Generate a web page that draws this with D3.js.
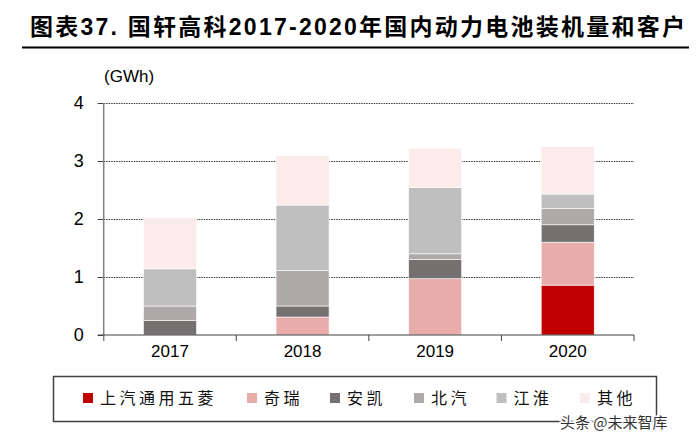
<!DOCTYPE html>
<html><head><meta charset="utf-8">
<script src="https://cdn.jsdelivr.net/npm/d3@7"></script>
<style>
html,body{margin:0;padding:0;background:#fff;}
svg{display:block;}
</style></head>
<body>
<svg id="chart" width="699" height="439"></svg>
<script>
// ---- data ----
const years = ["2017", "2018", "2019", "2020"];
const seriesNames = ["上汽通用五菱", "奇瑞", "安凯", "北汽", "江淮", "其他"];
const saicWuling = [0, 0, 0, 0.86];
const chery = [0, 0.31, 0.97, 0.74];
const ankai = [0.25, 0.19, 0.33, 0.30];
const baic = [0.25, 0.61, 0.10, 0.28];
const jac = [0.64, 1.13, 1.14, 0.25];
const others = [0.88, 0.85, 0.68, 0.82];
const yTicks = [0, 1, 2, 3, 4];
const colors = ["#C00000", "#E8ADAB", "#767171", "#AEAAAA", "#BFBFBF", "#FBEBEA"];

const seriesValues = [saicWuling, chery, ankai, baic, jac, others];
const table = years.map((yr, i) => {
  const row = {year: yr};
  seriesNames.forEach((s, k) => row[s] = seriesValues[k][i]);
  return row;
});

const svg = d3.select("#chart");
const pL = 103.7, pR = 634, pT = 103, pB = 335;

const x = d3.scaleBand().domain(years).range([pL, pR]).padding(0);
const y = d3.scaleLinear().domain([0, 4]).range([pB, pT]);
const barW = x.bandwidth() * 0.4;

// title
const narrow = "'Liberation Sans Narrow', 'Arial Narrow', 'Liberation Sans', sans-serif";
const title = svg.append("text")
  .attr("x", 30).attr("y", 35)
  .attr("font-family", "'Noto Sans CJK SC', sans-serif")
  .attr("font-weight", "bold").attr("font-size", 23)
  .attr("fill", "#000")
  .attr("textLength", 655).attr("lengthAdjust", "spacing");
title.append("tspan").text("图表");
title.append("tspan").attr("font-family", narrow).text("37. ");
title.append("tspan").text("国轩高科");
title.append("tspan").attr("font-family", narrow).text("2017-2020");
title.append("tspan").text("年国内动力电池装机量和客户");
svg.append("line").attr("x1", 22).attr("x2", 689).attr("y1", 47.5).attr("y2", 47.5)
  .attr("stroke", "#000").attr("stroke-width", 2);

// gridlines
svg.append("g").selectAll("line").data(yTicks.filter(d => d > 0)).join("line")
  .attr("x1", pL).attr("x2", pR)
  .attr("y1", d => Math.round(y(d)) + 0.5).attr("y2", d => Math.round(y(d)) + 0.5)
  .attr("stroke", "#3a3a3a").attr("stroke-width", 1).attr("stroke-dasharray", "1.5,1");

// stacked bars
const stack = d3.stack().keys(seriesNames)(table);
svg.append("g").selectAll("g").data(stack).join("g")
  .attr("fill", (d, i) => colors[i])
  .selectAll("rect").data(d => d).join("rect")
  .attr("x", d => x(d.data.year) + (x.bandwidth() - barW) / 2)
  .attr("width", barW)
  .attr("y", d => y(d[1]))
  .attr("height", d => Math.max(0, y(d[0]) - y(d[1])))
  .attr("stroke", "#ffffff").attr("stroke-width", 0.6);

// y axis
const yAxis = svg.append("g").attr("transform", `translate(${pL},0)`)
  .call(d3.axisLeft(y).tickValues(yTicks).tickSize(6).tickPadding(14).tickFormat(d3.format("d")));
yAxis.select(".domain").remove();
yAxis.selectAll(".tick line").attr("stroke", "#404040");
yAxis.selectAll("text").attr("font-family", narrow).attr("font-size", 18).attr("fill", "#000");
svg.append("line").attr("x1", pL).attr("x2", pL).attr("y1", pT).attr("y2", pB + 6)
  .attr("stroke", "#808080").attr("stroke-width", 1.5);

// x axis
const xAxis = svg.append("g").attr("transform", `translate(0,${pB})`)
  .call(d3.axisBottom(x).tickSize(0).tickPadding(10));
xAxis.select(".domain").remove();
xAxis.selectAll("text").attr("font-family", narrow).attr("font-size", 17).attr("fill", "#000");
svg.append("line").attr("x1", pL - 6).attr("x2", pR).attr("y1", pB).attr("y2", pB)
  .attr("stroke", "#404040").attr("stroke-width", 1);
svg.append("g").selectAll("line").data(years).join("line")
  .attr("x1", d => x(d) + x.bandwidth()).attr("x2", d => x(d) + x.bandwidth())
  .attr("y1", pB).attr("y2", pB + 6)
  .attr("stroke", "#404040").attr("stroke-width", 1);

// unit
svg.append("text").attr("x", 104).attr("y", 82)
  .attr("font-family", narrow).attr("font-size", 17).attr("fill", "#000").text("(GWh)");

// legend
svg.append("rect").attr("x", 53.5).attr("y", 376.5).attr("width", 603).attr("height", 45)
  .attr("fill", "none").attr("stroke", "#404040").attr("stroke-width", 1.5);
const legendX = [83, 247, 330, 414, 496.5, 580];
const lg = svg.append("g").selectAll("g").data(seriesNames).join("g")
  .attr("transform", (d, i) => `translate(${legendX[i]},0)`);
lg.append("rect").attr("x", 0).attr("y", 393).attr("width", 10).attr("height", 10)
  .attr("fill", (d, i) => colors[i]);
lg.append("text").attr("x", 17).attr("y", 404)
  .attr("font-family", "'Noto Sans CJK SC', sans-serif").attr("font-size", 16)
  .attr("letter-spacing", 3.5).attr("fill", "#111").text(d => d);

// watermark
svg.append("text").attr("x", 560).attr("y", 428)
  .attr("font-family", "'Noto Sans CJK SC', sans-serif").attr("font-size", 15)
  .attr("fill", "#333").attr("stroke", "#fff").attr("stroke-width", 3)
  .attr("paint-order", "stroke").text("头条 @未来智库");
</script>
</body></html>
